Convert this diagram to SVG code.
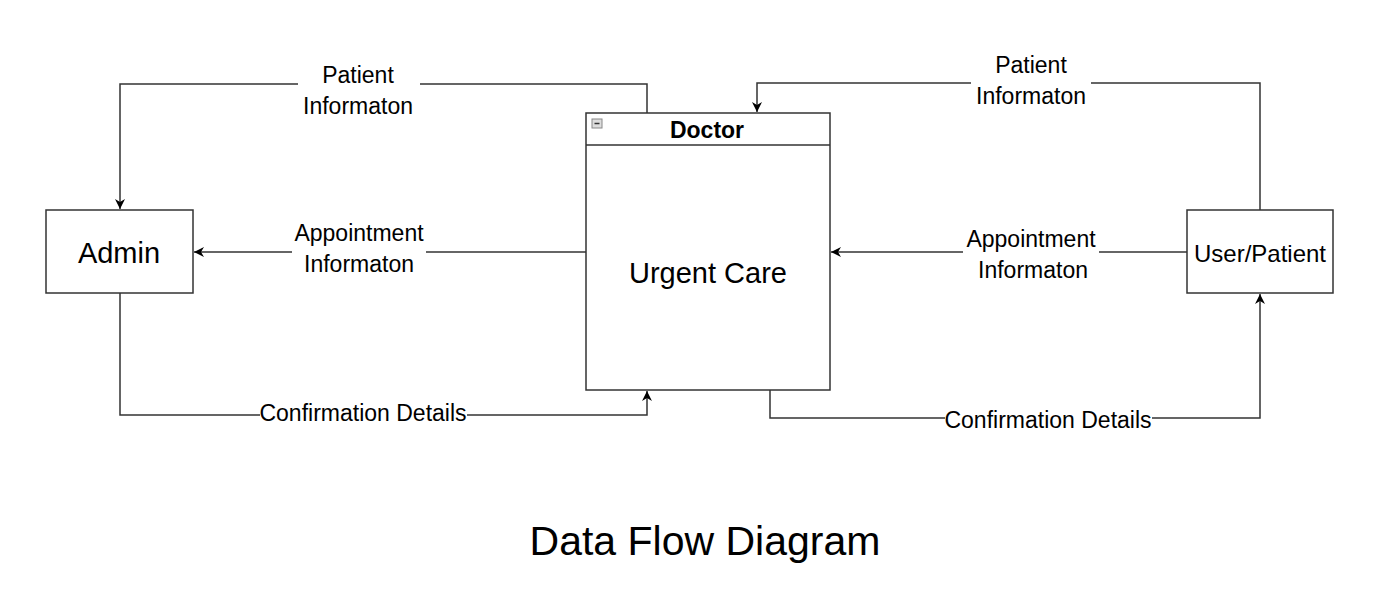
<svg xmlns="http://www.w3.org/2000/svg" width="1399" height="604" viewBox="0 0 1399 604">
<style>
.box{fill:#fff;stroke:#333;stroke-width:1.5}
.ln{fill:none;stroke:#333;stroke-width:1.5}
.lbl{font-family:"Liberation Sans",Arial,sans-serif;font-size:23px;fill:#000;text-anchor:middle}
.bg{fill:#fff}
.nt{font-family:"Liberation Sans",Arial,sans-serif;fill:#000;text-anchor:middle}
</style>
<defs>
<marker id="ah" viewBox="0 0 10 10" refX="10" refY="5" markerWidth="10" markerHeight="10" markerUnits="userSpaceOnUse" orient="auto">
<path d="M0,0 L10,5 L0,10 L3,5 Z" fill="#000"/>
</marker>
</defs>
<rect width="1399" height="604" fill="#fff"/>
<g id="connectors">
<path class="ln" d="M647,113 V84 H120 V209" marker-end="url(#ah)"/>
<path class="ln" d="M1260,210 V83 H757 V112" marker-end="url(#ah)"/>
<path class="ln" d="M586,252 H194" marker-end="url(#ah)"/>
<path class="ln" d="M1187,252 H831" marker-end="url(#ah)"/>
<path class="ln" d="M120,293 V415 H647 V391" marker-end="url(#ah)"/>
<path class="ln" d="M770,390 V418 H1260 V294" marker-end="url(#ah)"/>
<rect class="bg" x="298" y="60" width="122" height="58"/>
<rect class="bg" x="971" y="50" width="120" height="58"/>
<rect class="bg" x="292" y="220" width="134" height="58"/>
<rect class="bg" x="963" y="226" width="136" height="58"/>
<rect class="bg" x="260" y="401" width="207" height="26"/>
<rect class="bg" x="945" y="407" width="207" height="26"/>
<text class="lbl" x="358" y="83">Patient</text>
<text class="lbl" x="358" y="114">Informaton</text>
<text class="lbl" x="1031" y="73">Patient</text>
<text class="lbl" x="1031" y="104">Informaton</text>
<text class="lbl" x="359" y="241">Appointment</text>
<text class="lbl" x="359" y="272">Informaton</text>
<text class="lbl" x="1031" y="247">Appointment</text>
<text class="lbl" x="1033" y="278">Informaton</text>
<text class="lbl" x="363" y="421">Confirmation Details</text>
<text class="lbl" x="1048" y="428">Confirmation Details</text>
</g>
<g id="admin">
<rect class="box" x="46" y="210" width="147" height="83"/>
<text class="nt" x="119" y="263" font-size="29">Admin</text>
</g>
<g id="user-patient">
<rect class="box" x="1187" y="210" width="146" height="83"/>
<text class="nt" x="1260" y="262" font-size="24">User/Patient</text>
</g>
<g id="doctor">
<rect class="box" x="586" y="113" width="244" height="277"/>
<line class="ln" x1="586" y1="145" x2="830" y2="145"/>
<rect x="592" y="119" width="10" height="9" fill="#ddd" stroke="#888" stroke-width="1"/>
<line x1="594.5" y1="123.5" x2="599.5" y2="123.5" stroke="#333" stroke-width="1.5"/>
<text class="nt" x="707" y="138" font-size="23" font-weight="bold">Doctor</text>
<text class="nt" x="708" y="283" font-size="29">Urgent Care</text>
</g>
<text class="nt" x="705" y="555" font-size="41">Data Flow Diagram</text>
</svg>
